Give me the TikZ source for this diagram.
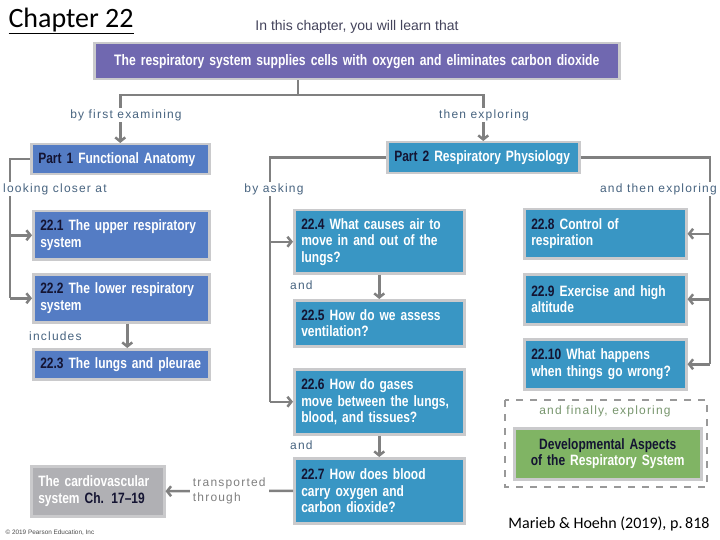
\documentclass[tikz,border=0pt]{standalone}
\usepackage{fontspec}
\setmainfont{Carlito}
\newfontfamily\boxfont[FakeStretch=0.8]{Liberation Sans}
\newfontfamily\lblfont[LetterSpace=10]{Liberation Sans}
\newfontfamily\plainfont{Liberation Sans}
\usetikzlibrary{arrows.meta, calc}
\definecolor{topviolet}{RGB}{112,104,176}
\definecolor{anatblue}{RGB}{84,124,196}
\definecolor{physteal}{RGB}{57,150,196}
\definecolor{devgreen}{RGB}{128,180,100}
\definecolor{cvgray}{RGB}{176,176,180}
\definecolor{rimgray}{RGB}{202,202,204}
\definecolor{linegray}{RGB}{128,128,128}
\definecolor{numnavy}{RGB}{20,20,50}
\definecolor{lblcol}{RGB}{72,100,128}
\definecolor{finlcol}{RGB}{120,150,110}

\begin{document}
\begin{tikzpicture}[x=1pt,y=-1pt,
  box/.style={draw=rimgray, line width=2.5pt, anchor=north west, inner xsep=7pt, inner ysep=2pt,
    text width=#1, align=left, text=white,
    font=\boxfont\bfseries\fontsize{15}{16.5}\selectfont\hyphenpenalty10000\relax},
  anat/.style={box=#1, fill=anatblue},
  phys/.style={box=#1, fill=physteal},
  conn/.style={draw=linegray, line width=2.5pt},
  arr/.style={conn, -{Straight Barb[length=4pt,width=10pt]}},
  lbl/.style={font=\lblfont\fontsize{12}{15}\selectfont, text=lblcol, fill=white, inner sep=1pt}]
  \useasboundingbox (0,0) rectangle (720,540);

  \node[anchor=west, font=\fontsize{28}{32}\selectfont] (chap) at (5,21) {\underline{Chapter 22}};
  \node[font=\plainfont\fontsize{14}{16}\selectfont, text=numnavy!80] (intro) at (357,27) {In this chapter, you will learn that};
  \node[box=511pt, fill=topviolet, minimum height=36pt, align=center, font=\boxfont\bfseries\fontsize{15.2}{18}\selectfont] (top) at (93,42)
    {The respiratory system supplies cells with oxygen and eliminates carbon dioxide};

  \node[anat=164pt, minimum height=30pt] (p1) at (30,143) {{\color{numnavy}Part 1} Functional Anatomy};
  \node[anat=162pt, minimum height=48pt] (s1) at (32,210) {{\color{numnavy}22.1} The upper respiratory\\system};
  \node[anat=162pt, minimum height=48pt] (s2) at (32,273) {{\color{numnavy}22.2} The lower respiratory\\system};
  \node[anat=162pt, minimum height=30pt] (s3) at (32,348) {{\color{numnavy}22.3} The lungs and pleurae};

  \node[phys=178pt, minimum height=31pt] (p2) at (386,141) {{\color{numnavy}Part 2} Respiratory Physiology};
  \node[phys=156pt, minimum height=63pt] (s4) at (293,209) {{\color{numnavy}22.4} What causes air to\\move in and out of the\\lungs?};
  \node[phys=156pt, minimum height=46pt] (s5) at (293,299) {{\color{numnavy}22.5} How do we assess\\ventilation?};
  \node[phys=156pt, minimum height=65pt] (s6) at (293,368) {{\color{numnavy}22.6} How do gases\\move between the lungs,\\blood, and tissues?};
  \node[phys=156pt, minimum height=65pt] (s7) at (293,457) {{\color{numnavy}22.7} How does blood\\carry oxygen and\\carbon dioxide?};
  \node[phys=148pt, minimum height=49pt] (s8) at (523,208) {{\color{numnavy}22.8} Control of\\respiration};
  \node[phys=148pt, minimum height=50pt] (s9) at (523,273) {{\color{numnavy}22.9} Exercise and high\\altitude};
  \node[phys=148pt, minimum height=50pt] (s10) at (523,338) {{\color{numnavy}22.10} What happens\\when things go wrong?};

  \node[box=119pt, fill=cvgray, minimum height=50pt] (cv) at (30,465) {The cardiovascular\\system {\color{numnavy}Ch. 17–19}};
  \draw[draw=linegray!80, line width=1.2pt, dash pattern=on 7pt off 7pt] (505,400) rectangle (707,487);
  \node[box=173pt, fill=devgreen, minimum height=51pt, align=center, text=numnavy] (dev) at (513,427)
    {Developmental Aspects\\of the {\color{white}Respiratory System}};

  \coordinate (split) at (298,95);
  \coordinate (lx) at (10,0);
  \coordinate (mx) at (270,0);
  \coordinate (rx) at (710,0);
  \draw[conn] (top.south -| split) -- (split);
  \draw[arr] (split) -| (p1.north);
  \draw[arr] (split) -| (p2.north);
  \draw[conn] (p1.west) -- (p1.west -| lx) -- (lx |- s2.west);
  \draw[arr] (lx |- s1.west) -- (s1.west);
  \draw[arr] (lx |- s2.west) -- (s2.west);
  \draw[arr] ([xshift=6pt]s2.south) -- ([xshift=6pt]s3.north);
  \draw[conn] (p2.west) -- (p2.west -| mx) -- (mx |- s6.west);
  \draw[arr] (mx |- s4.west) -- (s4.west);
  \draw[arr] (mx |- s6.west) -- (s6.west);
  \draw[arr] (s4.south) -- (s5.north);
  \draw[arr] (s6.south) -- (s7.north);
  \draw[conn] (p2.east) -- (p2.east -| rx) -- (rx |- s10.east);
  \draw[arr] (rx |- s8.east) -- (s8.east);
  \draw[arr] (rx |- s9.east) -- (s9.east);
  \draw[arr] (rx |- s10.east) -- (s10.east);
  \draw[arr] (s7.west) -- node[lbl, align=left, inner xsep=3pt, text=linegray] (trans) {transported\\through} (cv.east);

  \node[lbl] (lfirst) at (126,115) {by first examining};
  \node[lbl] (lthen) at (484,115) {then exploring};
  \node[lbl, anchor=west] (lcloser) at (2,189) {looking closer at};
  \node[lbl] (lask) at (274,189) {by asking};
  \node[lbl, anchor=east] (lthenexp) at (718,189) {and then exploring};
  \node[lbl, anchor=west] (lincl) at (28,336) {includes};
  \node[lbl, anchor=west] (land1) at (289,285) {and};
  \node[lbl, anchor=west] (land2) at (289,445) {and};
  \node[lbl, text=finlcol] (lfinal) at (605,411) {and finally, exploring};

  \node[font=\fontsize{16}{19}\selectfont] (cite) at (609,524) {Marieb \& Hoehn (2019), p.\,818};
  \node[anchor=west, font=\plainfont\fontsize{6.4}{7}\selectfont, text=black!70] (copy) at (2,533) {\textcopyright\ 2019 Pearson Education, Inc};
\end{tikzpicture}
\end{document}
